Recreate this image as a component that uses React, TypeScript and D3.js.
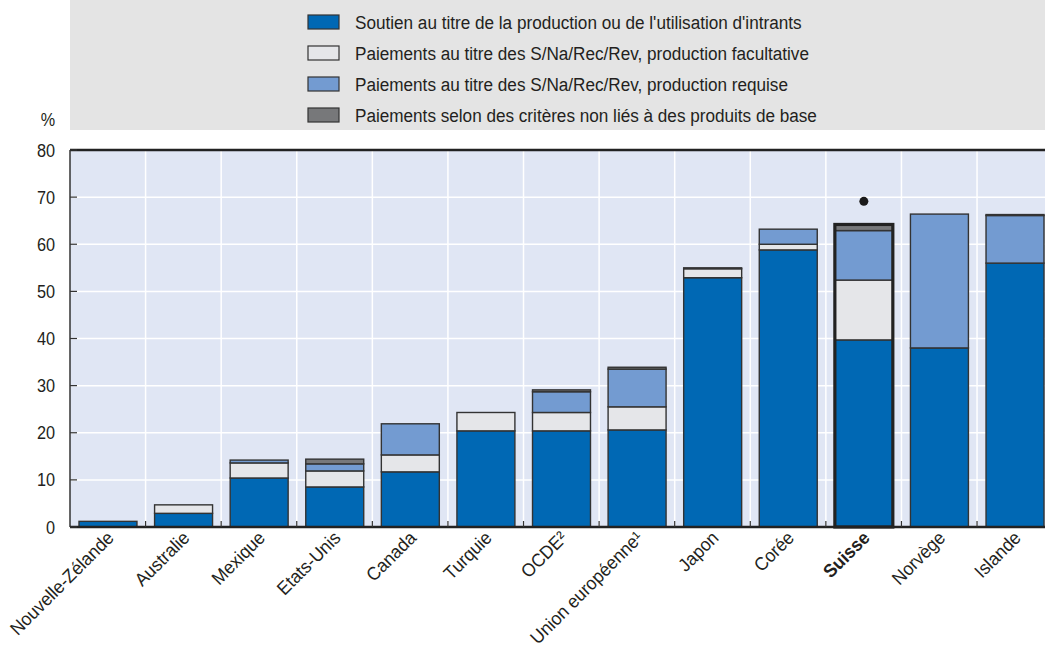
import React from "react";
import * as d3 from "d3";

const categories = ["Nouvelle-Zélande", "Australie", "Mexique", "Etats-Unis", "Canada", "Turquie", "OCDE²", "Union européenne¹", "Japon", "Corée", "Suisse", "Norvège", "Islande"];
const productionInputs = [1.2, 2.9, 10.4, 8.5, 11.7, 20.4, 20.4, 20.6, 52.9, 58.8, 39.7, 38.0, 56.0];
const optionalProduction = [0, 1.8, 3.2, 3.4, 3.6, 3.9, 3.9, 4.9, 1.9, 1.2, 12.7, 0, 0];
const requiredProduction = [0, 0, 0.6, 1.5, 6.6, 0, 4.4, 8.0, 0, 3.2, 10.5, 28.4, 10.1];
const nonCommodity = [0, 0, 0, 1.0, 0, 0, 0.4, 0.4, 0.2, 0, 1.3, 0, 0.2];
const dotValues: (number | null)[] = [null, null, null, null, null, null, null, null, null, null, 69.1, null, null];
const seriesNames = [
  "Soutien au titre de la production ou de l'utilisation d'intrants",
  "Paiements au titre des S/Na/Rec/Rev, production facultative",
  "Paiements au titre des S/Na/Rec/Rev, production requise",
  "Paiements selon des critères non liés à des produits de base",
];
const yTicks = [0, 10, 20, 30, 40, 50, 60, 70, 80];
const highlight = "Suisse";

const colors = ["#0068b4", "#e5e6e9", "#739bd1", "#77787a"];
const FONT = "'Liberation Sans', Arial, sans-serif";

function CText({ x, y, sx = 0.9, rotate = 0, anchor = "start", size, weight = "normal", children }: any) {
  return (
    <text transform={`translate(${x}, ${y}) rotate(${rotate}) scale(${sx}, 1)`} textAnchor={anchor}
      fontSize={size} fill="#231f20" fontWeight={weight}>{children}</text>
  );
}

export default function App() {
  const W = 1045, H = 648;
  const left = 70, right = 1053, top = 150, bottom = 527;
  const x = d3.scaleBand<string>().domain(categories).range([left, right]).paddingInner(0.233).paddingOuter(0.119);
  const step = x.step();
  const y = d3.scaleLinear().domain([0, 80]).range([bottom, top]);
  const series = [productionInputs, optionalProduction, requiredProduction, nonCommodity];
  const table = categories.map((c, i) => ({ c, s0: series[0][i], s1: series[1][i], s2: series[2][i], s3: series[3][i] }));
  const stacked = d3.stack<any>().keys(["s0", "s1", "s2", "s3"])(table);
  const boundaries = d3.range(categories.length + 1).map((i) => left + i * step);

  return (
    <div style={{ position: "absolute", left: 0, top: 0 }}>
      <svg width={W} height={H} style={{ display: "block", fontFamily: FONT }}>
        <rect x={0} y={0} width={W} height={H} fill="#fff" />
        {/* legend */}
        <rect x={70} y={0} width={975} height={130} fill="#e4e4e4" />
        {seriesNames.map((n, i) => (
          <g key={n} transform={`translate(308, ${15 + i * 31})`}>
            <rect x={0} y={0} width={31} height={14} fill={colors[i]} stroke="#333" strokeWidth={1.2} />
            <CText x={47} y={14} size={19.2} sx={0.893}>{n}</CText>
          </g>
        ))}
        <CText x={48} y={126} size={18} anchor="middle">%</CText>
        {/* plot background */}
        <rect x={left} y={top} width={right - left} height={bottom - top} fill="#e0e6f4" />
        {yTicks.filter((t) => t > 0 && t < 80).map((t) => (
          <line key={t} x1={left} x2={right} y1={y(t)} y2={y(t)} stroke="#fff" strokeWidth={1.5} />
        ))}
        {boundaries.slice(1, -1).map((b, i) => (
          <line key={i} x1={b} x2={b} y1={top} y2={bottom} stroke="#fff" strokeWidth={1.5} />
        ))}
        {/* bars */}
        {stacked.map((layer, k) => (
          <g key={k}>
            {layer.map((d, i) => {
              const h = y(d[0]) - y(d[1]);
              if (h <= 0) return null;
              return (
                <rect key={i} x={x(categories[i])!} y={y(d[1])} width={x.bandwidth()} height={h}
                  fill={colors[k]} stroke="#333" strokeWidth={1.4} />
              );
            })}
          </g>
        ))}
        {/* highlight outline */}
        {categories.map((c, i) => {
          if (c !== highlight) return null;
          const total = productionInputs[i] + optionalProduction[i] + requiredProduction[i] + nonCommodity[i];
          return (
            <rect key={c} x={x(c)!} y={y(total)} width={x.bandwidth()} height={bottom - y(total)}
              fill="none" stroke="#222" strokeWidth={3.2} />
          );
        })}
        {/* dots */}
        {dotValues.map((v, i) => v == null ? null : (
          <circle key={i} cx={x(categories[i])! + x.bandwidth() / 2} cy={y(v)} r={4.5} fill="#1a1a1a" />
        ))}
        {/* axes */}
        <line x1={left} x2={right} y1={top} y2={top} stroke="#222" strokeWidth={2.5} />
        <line x1={left} x2={left} y1={top} y2={bottom} stroke="#333" strokeWidth={1.5} />
        <line x1={left} x2={right} y1={bottom} y2={bottom} stroke="#222" strokeWidth={2.5} />
        {yTicks.map((t) => (
          <g key={t}>
            <line x1={left} x2={left + 7} y1={y(t)} y2={y(t)} stroke="#333" strokeWidth={1.2} />
            <CText x={55} y={y(t) + 6.5} size={18.5} sx={0.88} anchor="end">{t}</CText>
          </g>
        ))}
        {boundaries.slice(1, -1).map((b, i) => (
          <line key={i} x1={b} x2={b} y1={bottom} y2={bottom - 6} stroke="#333" strokeWidth={1.2} />
        ))}
        {categories.map((c) => {
          const cx = x(c)! + x.bandwidth() / 2 + 7;
          return (
            <CText key={c} x={cx} y={539} rotate={-45} anchor="end" size={18.5} sx={0.95}
              weight={c === highlight ? "bold" : "normal"}>{c}</CText>
          );
        })}
      </svg>
    </div>
  );
}
